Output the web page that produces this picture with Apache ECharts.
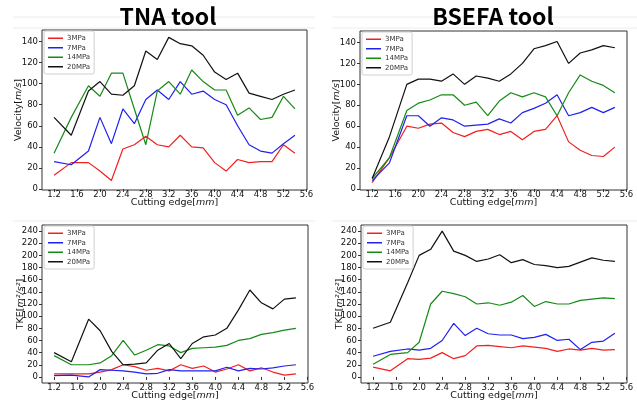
<!DOCTYPE html>
<html lang="en">
<head>
  <meta charset="UTF-8">
  <title>TNA / BSEFA tool</title>
  <style>
    html, body { margin: 0; padding: 0; background: #fff; }
    #main { width: 637px; height: 405px; }
  </style>
</head>
<body>
<div id="main"></div>
<script src="https://cdn.jsdelivr.net/npm/echarts@6/dist/echarts.min.js"></script>
<script>
  // cutting edge positions (mm)
  var xValues = [1.2, 1.5, 1.8, 2.0, 2.2, 2.4, 2.6, 2.8, 3.0, 3.2, 3.4, 3.6, 3.8, 4.0, 4.2, 4.4, 4.6, 4.8, 5.0, 5.2, 5.4];
  var seriesNames = ['3MPa', '7MPa', '14MPa', '20MPa'];
  var xTicks = [1.2, 1.6, 2.0, 2.4, 2.8, 3.2, 3.6, 4.0, 4.4, 4.8, 5.2, 5.6];
  var velTicks = [0, 20, 40, 60, 80, 100, 120, 140];
  var tkeTicks = [0, 20, 40, 60, 80, 100, 120, 140, 160, 180, 200, 220, 240];

  // TNA tool - velocity
  var tnaVel3  = [13, 25, 25, 17, 8, 38, 42, 50, 42, 40, 51, 40, 39, 25, 17, 28, 25, 26, 26, 42, 34];
  var tnaVel7  = [26, 23, 36, 68, 43, 76, 62, 85, 94, 85, 102, 90, 93, 85, 80, 60, 42, 36, 34, 43, 51];
  var tnaVel14 = [34, 68, 98, 88, 110, 110, 76, 42, 93, 102, 90, 113, 102, 94, 94, 70, 77, 66, 68, 88, 76];
  var tnaVel20 = [68, 51, 93, 102, 90, 89, 98, 131, 123, 144, 138, 136, 127, 111, 104, 110, 91, 88, 85, 90, 94];

  // BSEFA tool - velocity
  var bsVel3  = [6, 30, 60, 58, 62, 63, 54, 50, 55, 57, 52, 55, 47, 55, 57, 70, 45, 37, 32, 31, 40];
  var bsVel7  = [8, 25, 70, 70, 60, 68, 66, 60, 61, 62, 67, 63, 73, 77, 82, 90, 70, 73, 78, 73, 78];
  var bsVel14 = [10, 30, 75, 82, 85, 90, 90, 80, 83, 70, 84, 92, 88, 92, 88, 70, 92, 109, 103, 99, 92];
  var bsVel20 = [10, 50, 100, 105, 105, 103, 110, 100, 108, 106, 103, 110, 120, 134, 137, 141, 120, 130, 133, 137, 135];

  // TNA tool - TKE
  var tnaTke3  = [5, 5, 5, 8, 12, 20, 17, 11, 14, 10, 20, 14, 18, 8, 13, 20, 10, 15, 8, 3, 5];
  var tnaTke7  = [2, 3, 0, 12, 11, 10, 8, 5, 6, 12, 10, 10, 10, 10, 16, 10, 14, 13, 15, 18, 20];
  var tnaTke14 = [35, 20, 20, 23, 35, 60, 36, 44, 53, 51, 40, 47, 48, 49, 52, 60, 63, 70, 73, 77, 80];
  var tnaTke20 = [40, 25, 95, 76, 42, 20, 21, 23, 44, 55, 30, 55, 66, 69, 80, 110, 143, 122, 112, 128, 130];

  // BSEFA tool - TKE
  var bsTke3  = [16, 10, 30, 29, 31, 40, 30, 35, 51, 52, 50, 48, 51, 49, 47, 42, 46, 44, 47, 44, 45];
  var bsTke7  = [34, 42, 46, 44, 47, 60, 88, 68, 80, 71, 69, 69, 63, 65, 70, 60, 62, 45, 57, 59, 72];
  var bsTke14 = [21, 37, 40, 57, 120, 141, 137, 132, 120, 122, 118, 123, 134, 116, 124, 120, 120, 126, 128, 130, 129];
  var bsTke20 = [80, 90, 155, 200, 210, 240, 207, 200, 190, 194, 201, 188, 193, 185, 183, 180, 182, 189, 196, 192, 190];

  var colors = ['#f02020', '#2020f0', '#168a16', '#111111'];
  var fontBase = 'DejaVu Sans';

  var panels = [
    { grid: [42, 30, 265, 160], data: [tnaVel3, tnaVel7, tnaVel14, tnaVel20], kind: 'vel' },
    { grid: [360, 31, 267, 159], data: [bsVel3, bsVel7, bsVel14, bsVel20], kind: 'vel' },
    { grid: [42, 225, 266, 158], data: [tnaTke3, tnaTke7, tnaTke14, tnaTke20], kind: 'tke' },
    { grid: [361, 225, 266, 158], data: [bsTke3, bsTke7, bsTke14, bsTke20], kind: 'tke' }
  ];

  var toPairs = function (ys) {
    return xValues.map(function (x, i) { return [x, ys[i]]; });
  };

  var nameRich = {
    a: { fontFamily: fontBase, fontSize: 9.5, color: '#111' },
    i: { fontFamily: fontBase, fontSize: 9.5, fontStyle: 'italic', color: '#111' }
  };

  var grids = [], xAxes = [], yAxes = [], legends = [], series = [];

  panels.forEach(function (p, k) {
    grids.push({
      left: p.grid[0], top: p.grid[1], width: p.grid[2], height: p.grid[3],
      show: true, borderColor: '#333', borderWidth: 1, backgroundColor: '#fff',
      containLabel: false, outerBoundsMode: 'none'
    });
    xAxes.push({
      type: 'value', gridIndex: k, min: 0.99, max: 5.61,
      name: '{a|Cutting edge[}{i|mm}{a|]}',
      nameLocation: 'middle', nameGap: 8, nameMoveOverlap: false,
      nameTextStyle: { rich: nameRich },
      axisLine: { show: false },
      axisTick: { show: true, inside: false, length: 3, customValues: xTicks, lineStyle: { color: '#333' } },
      axisLabel: { customValues: xTicks, fontFamily: fontBase, fontSize: 8.5, color: '#111', margin: 0,
        formatter: function (v) { return v.toFixed(1); } },
      splitLine: { show: false }
    });
    var vel = p.kind === 'vel';
    var yt = vel ? velTicks : tkeTicks;
    yAxes.push({
      type: 'value', gridIndex: k,
      min: vel ? -1 : -10, max: vel ? 151 : 250,
      name: vel ? '{a|Velocity[}{i|m/s}{a|]}' : '{a|TKE[}{i|m²/s²}{a|]}',
      nameLocation: 'middle', nameRotate: 90, nameGap: vel ? 18 : 16, nameMoveOverlap: false,
      nameTextStyle: { rich: nameRich },
      axisLine: { show: false },
      axisTick: { show: true, inside: false, length: 3, customValues: yt, lineStyle: { color: '#333' } },
      axisLabel: { customValues: yt, fontFamily: fontBase, fontSize: 8.5, color: '#111', margin: 4 },
      splitLine: { show: false }
    });
    legends.push({
      data: seriesNames,
      orient: 'vertical',
      left: p.grid[0] + 2, top: p.grid[1] + 1,
      icon: 'rect', itemWidth: 15, itemHeight: 1.5, itemGap: 1,
      padding: [3, 4, 3, 4],
      backgroundColor: 'rgba(255,255,255,0.85)',
      borderColor: '#d0d0d0', borderWidth: 1, borderRadius: 2,
      selectedMode: false,
      textStyle: { fontFamily: fontBase, fontSize: 7, color: '#333', lineHeight: 8.5, padding: [0, 0, 0, -1] }
    });
    p.data.forEach(function (ys, j) {
      series.push({
        name: seriesNames[j], type: 'line',
        xAxisIndex: k, yAxisIndex: k,
        showSymbol: false, symbol: 'none',
        color: colors[j],
        lineStyle: { width: 1.2, color: colors[j] },
        data: toPairs(ys)
      });
    });
  });

  var chart = echarts.init(document.getElementById('main'));
  chart.setOption({
    backgroundColor: '#fff',
    animation: false,
    grid: grids,
    xAxis: xAxes,
    yAxis: yAxes,
    legend: legends,
    series: series,
    graphic: [
      { type: 'line', silent: true, shape: { x1: 13, y1: 17, x2: 315, y2: 17 }, style: { stroke: '#ececec', lineWidth: 1 } },
      { type: 'line', silent: true, shape: { x1: 13, y1: 28, x2: 315, y2: 28 }, style: { stroke: '#ececec', lineWidth: 1 } },
      { type: 'line', silent: true, shape: { x1: 332, y1: 17, x2: 637, y2: 17 }, style: { stroke: '#ececec', lineWidth: 1 } },
      { type: 'line', silent: true, shape: { x1: 332, y1: 28, x2: 637, y2: 28 }, style: { stroke: '#ececec', lineWidth: 1 } },
      { type: 'line', silent: true, shape: { x1: 13, y1: 221, x2: 315, y2: 221 }, style: { stroke: '#ececec', lineWidth: 1 } },
      { type: 'line', silent: true, shape: { x1: 332, y1: 221, x2: 637, y2: 221 }, style: { stroke: '#ececec', lineWidth: 1 } },
      { type: 'text', x: 168, y: 16, z: 10, style: { text: 'TNA tool', fill: '#000', textAlign: 'center', textVerticalAlign: 'middle',
        font: 'bold 23px "Noto Sans CJK JP", "DejaVu Sans", sans-serif' } },
      { type: 'text', x: 493, y: 16, z: 10, style: { text: 'BSEFA tool', fill: '#000', textAlign: 'center', textVerticalAlign: 'middle',
        font: 'bold 23px "Noto Sans CJK JP", "DejaVu Sans", sans-serif' } }
    ]
  });
</script>
</body>
</html>
